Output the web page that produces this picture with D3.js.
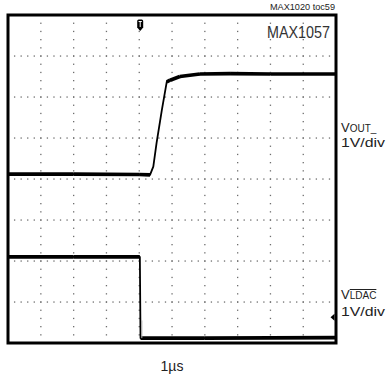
<!DOCTYPE html>
<html><head><meta charset="utf-8">
<script src="https://cdn.jsdelivr.net/npm/d3@7"></script>
<style>body{margin:0;background:#fff}svg{display:block}</style></head>
<body><script>
// time axis in microseconds (1 µs/div), trigger at t = 0
const timeDomain = [-4, 6];
const voltDomain = [-4, 4];
const xGrid = [-3, -2, -1, 0, 1, 2, 3, 4, 5];
const yGrid = [-3, -2, -1, 0, 1, 2, 3];
// VOUT_ trace (V)
const voutTime = [-4, -2, 0, 0.33, 0.43, 0.53, 0.69, 0.84, 0.94, 1.24, 1.85, 2.77, 4, 6];
const voutVal  = [0.12, 0.12, 0.11, 0.1, 0.30, 0.88, 1.68, 2.37, 2.41, 2.50, 2.56, 2.57, 2.56, 2.56];
// VLDAC trace (V)
const ldacTime = [-4, -2, 0.02, 0.04, 2, 6];
const ldacVal  = [-1.9, -1.9, -1.9, -3.88, -3.88, -3.87];
const ch2GroundMarker = -3.37;
const titleText = "MAX1020 toc59";
const partText = "MAX1057";
const timeLabel = "1\u00B5s";

const W = 386, H = 379;
const svg = d3.select("body").append("svg").attr("width", W).attr("height", H);
const x = d3.scaleLinear().domain(timeDomain).range([8, 336]);
const y = d3.scaleLinear().domain(voltDomain).range([343, 15]);

const font = "'Liberation Sans Narrow','Liberation Sans',Arial,sans-serif";

// grid dots
const g = svg.append("g").attr("fill", "#6e6e6e");
const tMinor = d3.range(timeDomain[0] + 0.2, timeDomain[1] - 0.1, 0.2);
const vMinor = d3.range(voltDomain[0] + 0.2, voltDomain[1] - 0.1, 0.2);
yGrid.forEach(v => tMinor.forEach(t => {
  g.append("rect").attr("x", x(t) - 0.6).attr("y", y(v) - 0.6).attr("width", 1.3).attr("height", 1.3);
}));
xGrid.forEach(t => vMinor.forEach(v => {
  g.append("rect").attr("x", x(t) - 0.6).attr("y", y(v) - 0.6).attr("width", 1.3).attr("height", 1.3);
}));

// traces
function drawTrace(ts, vs) {
  const pts = ts.map((t, i) => [t, vs[i]]);
  const line = d3.line().x(d => x(d[0])).y(d => y(d[1]));
  svg.append("path").attr("d", line(pts)).attr("fill", "none")
    .attr("stroke", "#000").attr("stroke-width", 1.8).attr("stroke-linejoin", "round");
  for (let i = 0; i < pts.length - 1; i++) {
    const a = pts[i], b = pts[i + 1];
    const slope = Math.abs((b[1] - a[1]) / (b[0] - a[0]));
    if (slope < 0.6) {
      svg.append("path").attr("d", line([a, b])).attr("fill", "none")
        .attr("stroke", "#000").attr("stroke-width", 3.6).attr("stroke-linecap", "butt");
    }
  }
}
drawTrace(voutTime, voutVal);
drawTrace(ldacTime, ldacVal);
// faint afterglow line at LDAC falling edge
svg.append("line").attr("x1", x(0.08)).attr("x2", x(0.08))
  .attr("y1", y(-3.45)).attr("y2", y(-3.88)).attr("stroke", "#aaa").attr("stroke-width", 1);

// frame
svg.append("rect").attr("x", x(timeDomain[0])).attr("y", y(voltDomain[1]))
  .attr("width", x(timeDomain[1]) - x(timeDomain[0]))
  .attr("height", y(voltDomain[0]) - y(voltDomain[1]))
  .attr("fill", "none").attr("stroke", "#000").attr("stroke-width", 3);

// trigger marker
const tx = x(0) + 1;
svg.append("path")
  .attr("d", `M${tx-3},21 Q${tx-3},19.5 ${tx-1.5},19.5 L${tx+1.5},19.5 Q${tx+3},19.5 ${tx+3},21 L${tx+3},27.5 L${tx},31 L${tx-3},27.5 Z`)
  .attr("fill", "#000");
svg.append("path").attr("d", `M${tx-1.6},21.5 L${tx+1.6},21.5 M${tx},21.5 L${tx},27`)
  .attr("stroke", "#fff").attr("stroke-width", 1).attr("fill", "none");

// ch2 ground marker
const gy = y(ch2GroundMarker);
svg.append("path").attr("d", `M${x(6)-1.5},${gy-3.5} L${x(6)-5.5},${gy} L${x(6)-1.5},${gy+3.5} Z`).attr("fill", "#000");

// texts
svg.append("text").attr("x", 335).attr("y", 10).attr("text-anchor", "end")
  .attr("font-family", font).attr("font-size", 9.5).attr("fill", "#222")
  .attr("textLength", 65).attr("lengthAdjust", "spacingAndGlyphs").text(titleText);
svg.append("text").attr("x", 330).attr("y", 37.5).attr("text-anchor", "end")
  .attr("font-family", font).attr("font-size", 16).attr("fill", "#333")
  .attr("textLength", 63).attr("lengthAdjust", "spacingAndGlyphs").text(partText);

function chLabel(yBase, gap, sub, overline) {
  const t = svg.append("text").attr("x", 341).attr("y", yBase)
    .attr("font-family", font).attr("font-size", 13).attr("fill", "#222");
  t.append("tspan").text("V").attr("font-size", 13);
  const s = t.append("tspan").text(sub).attr("font-size", 10);
  if (overline) s.attr("text-decoration", "overline");
  svg.append("text").attr("x", 341).attr("y", yBase + gap)
    .attr("font-family", font).attr("font-size", 13).attr("fill", "#222")
    .attr("textLength", 44).attr("lengthAdjust", "spacingAndGlyphs").text("1V/div");
}
chLabel(132, 15, "OUT_", false);
chLabel(299, 17, "LDAC", true);

svg.append("text").attr("x", 172).attr("y", 371).attr("text-anchor", "middle")
  .attr("font-family", font).attr("font-size", 14).attr("fill", "#222").text(timeLabel);
</script></body></html>
